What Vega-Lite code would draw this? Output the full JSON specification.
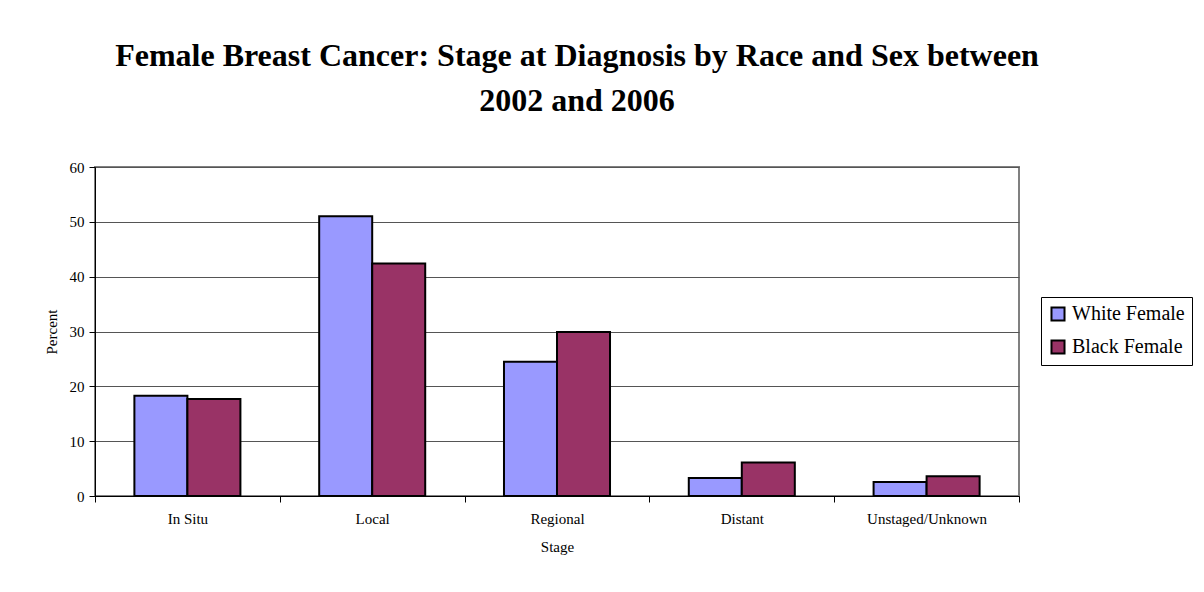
{
  "$schema": "https://vega.github.io/schema/vega-lite/v6.json",
  "autosize": {"type": "none"},
  "padding": {"left": 95, "top": 167, "right": 185, "bottom": 96},
  "width": 924,
  "height": 329,
  "background": "white",
  "title": {
    "text": ["Female Breast Cancer: Stage at Diagnosis by Race and Sex between", "2002 and 2006"],
    "font": "Liberation Serif",
    "fontSize": 32,
    "fontWeight": "bold",
    "lineHeight": 45,
    "color": "black",
    "anchor": "middle",
    "dx": 20,
    "offset": 42
  },
  "data": {
    "values": [
      {"stage": "In Situ", "group": "White Female", "percent": 18.3},
      {"stage": "In Situ", "group": "Black Female", "percent": 17.7},
      {"stage": "Local", "group": "White Female", "percent": 51.0},
      {"stage": "Local", "group": "Black Female", "percent": 42.4},
      {"stage": "Regional", "group": "White Female", "percent": 24.5},
      {"stage": "Regional", "group": "Black Female", "percent": 29.9},
      {"stage": "Distant", "group": "White Female", "percent": 3.3},
      {"stage": "Distant", "group": "Black Female", "percent": 6.1},
      {"stage": "Unstaged/Unknown", "group": "White Female", "percent": 2.55},
      {"stage": "Unstaged/Unknown", "group": "Black Female", "percent": 3.6}
    ]
  },
  "mark": {"type": "bar", "stroke": "black", "strokeWidth": 2},
  "encoding": {
    "x": {
      "field": "stage",
      "type": "nominal",
      "sort": ["In Situ", "Local", "Regional", "Distant", "Unstaged/Unknown"],
      "scale": {"paddingInner": 0, "paddingOuter": 0},
      "axis": {
        "title": "Stage",
        "labelAngle": 0,
        "tickBand": "extent",
        "tickSize": 6,
        "tickColor": "black",
        "domainColor": "black",
        "labelFont": "Liberation Serif",
        "labelFontSize": 15,
        "labelColor": "black",
        "labelPadding": 9,
        "titleFont": "Liberation Serif",
        "titleFontSize": 15,
        "titleFontWeight": "normal",
        "titleColor": "black",
        "titlePadding": 13
      }
    },
    "xOffset": {
      "field": "group",
      "type": "nominal",
      "sort": ["White Female", "Black Female"],
      "scale": {"paddingInner": 0, "paddingOuter": 0.743}
    },
    "y": {
      "field": "percent",
      "type": "quantitative",
      "scale": {"domain": [0, 60]},
      "axis": {
        "title": "Percent",
        "values": [0, 10, 20, 30, 40, 50, 60],
        "tickSize": 6,
        "tickColor": "black",
        "domainColor": "black",
        "gridColor": "#555555",
        "gridWidth": 1,
        "labelFont": "Liberation Serif",
        "labelFontSize": 15,
        "labelColor": "black",
        "labelPadding": 5,
        "titleFont": "Liberation Serif",
        "titleFontSize": 15,
        "titleFontWeight": "normal",
        "titleColor": "black",
        "titlePadding": 10
      }
    },
    "color": {
      "field": "group",
      "type": "nominal",
      "sort": ["White Female", "Black Female"],
      "scale": {"domain": ["White Female", "Black Female"], "range": ["#9999FF", "#993366"]},
      "legend": {
        "title": null,
        "orient": "none",
        "legendX": 946,
        "legendY": 130,
        "strokeColor": "black",
        "padding": 7,
        "symbolType": "square",
        "symbolSize": 170,
        "symbolStrokeColor": "black",
        "symbolStrokeWidth": 2,
        "labelFont": "Liberation Serif",
        "labelFontSize": 20,
        "labelColor": "black",
        "rowPadding": 11,
        "labelOffset": 4
      }
    }
  },
  "config": {
    "view": {"stroke": "#808080", "strokeWidth": 2},
    "axis": {"domainWidth": 1},
    "legend": {"strokeWidth": 1}
  }
}
